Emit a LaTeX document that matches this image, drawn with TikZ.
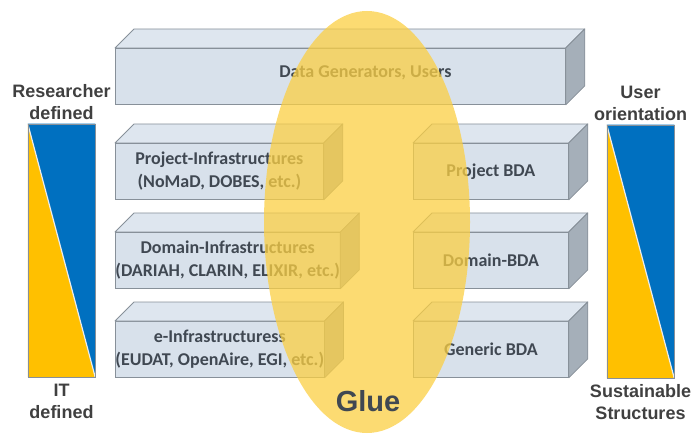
\documentclass[tikz,border=0pt]{standalone}
\usepackage{fontspec}
\setmainfont{Carlito}
\newfontfamily\barfont{Liberation Sans}
\usepackage{xcolor}
\usetikzlibrary{positioning}

\definecolor{slabface}{RGB}{216,225,235}
\definecolor{slabtopc}{RGB}{222,230,239}
\definecolor{slabside}{RGB}{165,175,185}
\definecolor{slabline}{RGB}{135,144,153}
\definecolor{slabtext}{RGB}{64,72,82}
\definecolor{gluey}{RGB}{251,207,67}
\definecolor{barblue}{RGB}{0,112,192}
\definecolor{baryellow}{RGB}{255,192,0}
\definecolor{bartext}{RGB}{64,64,64}

\tikzset{
  slabfront/.style={draw=slabline, fill=slabface, line width=0.8pt,
    minimum height=56, inner sep=0pt, anchor=north west, align=center,
    text=slabtext, font=\bfseries\fontsize{18}{23}\selectfont},
  slabtop/.style={draw=slabline, fill=slabtopc, line width=0.8pt, line join=round},
  slabsd/.style={draw=slabline, fill=slabside, line width=0.8pt, line join=round},
  barlabel/.style={align=center, text=bartext, font=\barfont\bfseries\fontsize{18}{22}\selectfont},
  bar/.style={draw=slabline, line width=0.5pt, minimum width=67, minimum height=253, inner sep=0pt}
}

% front face as a node, top and side face hang off its corners
\newcommand{\slab}[5]{%
  \node[slabfront, minimum width=#4] (#1) at (#2,#3) {#5};
  \draw[slabtop] (#1.north west) -- ++(19,-19) -| ([shift={(19,-19)}]#1.north east) -- (#1.north east) -- cycle;
  \draw[slabsd] (#1.north east) -- ++(19,-19) -- ([shift={(19,-19)}]#1.south east) -- (#1.south east) -- cycle;
}

\begin{document}
\begin{tikzpicture}[x=1pt, y=-1pt]
    \useasboundingbox (0,0) rectangle (692,435);

    % boxes
    \slab{users}{115}{48}{450}{}
    \node[text=slabtext, font=\bfseries\fontsize{18}{23}\selectfont] (userslbl) at ([xshift=25, yshift=4]users.center) {Data Generators, Users};
    \slab{projinf}{115}{143}{208}{Project-Infrastructures\\(NoMaD, DOBES, etc.)}
    \slab{dominf}{115}{232}{208}{Domain-Infrastructures\\(DARIAH, CLARIN, ELIXIR, etc.)}
    \slab{einf}{115}{321}{208}{e-Infrastructuress\\(EUDAT, OpenAire, EGI, etc.)}
    \slab{projbda}{413}{143}{155}{Project BDA}
    \slab{dombda}{413}{232}{155}{Domain-BDA}
    \slab{genbda}{413}{321}{155}{Generic BDA}

    % glue
    \fill[gluey, fill opacity=0.75] (367,222) ellipse [x radius=103, y radius=211];
    \node[text=slabtext, font=\barfont\bfseries\fontsize{29}{30}\selectfont] (glue) at (368,401) {Glue};

    % left bar
    \node[bar] (lbar) at (61.5,250.5) {};
    \fill[baryellow] (lbar.north west) -- (lbar.south east) -- (lbar.south west) -- cycle;
    \fill[barblue] (lbar.north west) -- (lbar.north east) -- (lbar.south east) -- cycle;
    \draw[white!85!gray, line width=1.2pt] (lbar.north west) -- (lbar.south east);
    \node[bar] at (lbar) {};
    \node[barlabel, above=1pt of lbar] (lres) {Researcher\\defined};
    \node[barlabel, below=3pt of lbar] (lit) {IT\\defined};

    % right bar
    \node[bar] (rbar) at (640.5,251.5) {};
    \fill[baryellow] (rbar.north west) -- (rbar.south east) -- (rbar.south west) -- cycle;
    \fill[barblue] (rbar.north west) -- (rbar.north east) -- (rbar.south east) -- cycle;
    \draw[white!85!gray, line width=1.2pt] (rbar.north west) -- (rbar.south east);
    \node[bar] at (rbar) {};
    \node[barlabel, above=1pt of rbar] (ruser) {User\\orientation};
    \node[barlabel, below=3pt of rbar] (rsust) {Sustainable\\Structures};
\end{tikzpicture}
\end{document}
